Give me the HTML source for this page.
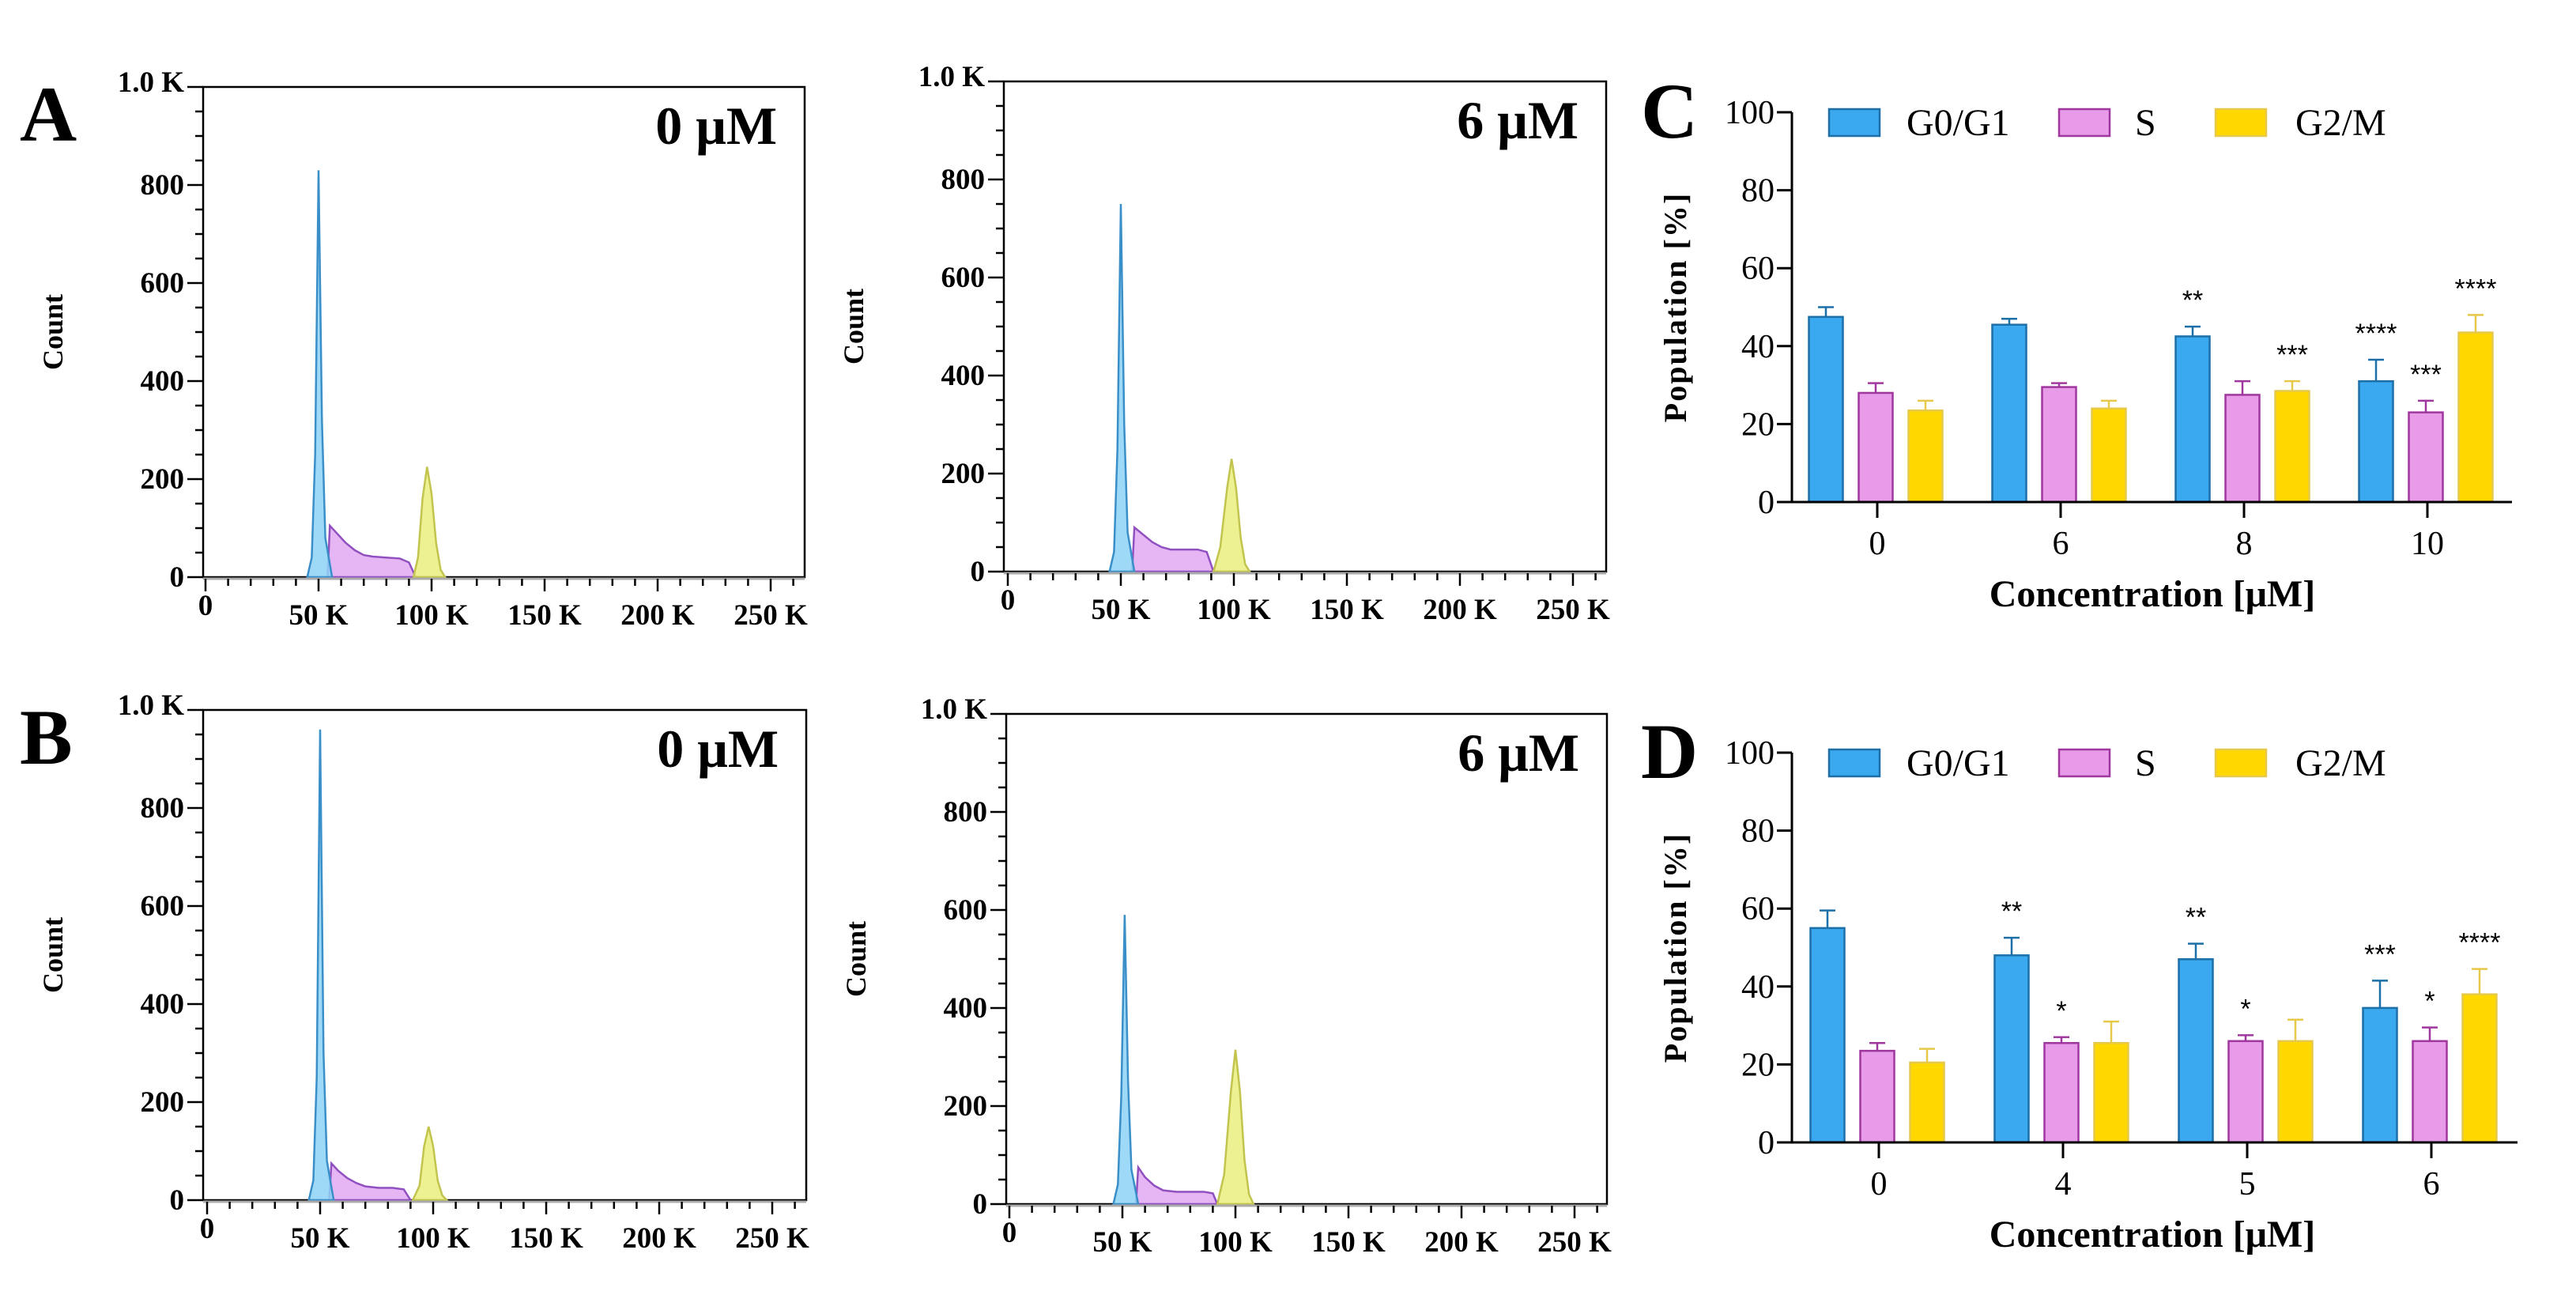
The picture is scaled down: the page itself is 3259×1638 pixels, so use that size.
<!DOCTYPE html>
<html><head><meta charset="utf-8"><style>
html,body{margin:0;padding:0;background:#fff;}
svg{display:block;font-family:"Liberation Serif",serif;}
</style></head><body>
<svg id="fig" width="3259" height="1638" viewBox="0 0 3259 1638" xmlns="http://www.w3.org/2000/svg"></svg>
<script>
// ---------- Histogram data (x in K, count) ----------
const histTitles = ["0 μM","6 μM","0 μM","6 μM"];
const histXTicks = [0,50,100,150,200,250];
const histYTicks = [0,200,400,600,800,1000];
const histYLabels = ["0","200","400","600","800","1.0 K"];
const g1A  = [[45,0],[47,40],[48.5,250],[50,830],[51.5,320],[53,80],[56,0]];
const sA   = [[54,0],[55,105],[58,90],[62,70],[66,55],[70,45],[74,42],[80,40],[86,38],[90,30],[93,0]];
const g2A  = [[92,0],[94,40],[96,160],[98,225],[100,170],[102,70],[104,15],[106,0]];
const g1A6 = [[45,0],[47,40],[48.5,250],[50,750],[51.5,300],[53,80],[56,0]];
const sA6  = [[55,0],[56,90],[60,75],[64,60],[68,50],[72,45],[78,45],[84,45],[88,40],[91,0]];
const g2A6 = [[91,0],[94,50],[97,170],[99,230],[101,170],[103,70],[105,15],[107,0]];
const g1B  = [[45,0],[47,40],[48.5,250],[50,960],[51.5,300],[53,80],[56,0]];
const sB   = [[54,0],[55,75],[58,60],[62,45],[66,35],[70,28],[76,25],[82,25],[87,22],[90,0]];
const g2B  = [[91,0],[94,30],[96,110],[98,150],[100,110],[102,40],[104,10],[106,0]];
const g1B6 = [[46,0],[48,40],[49.5,220],[51,590],[52.5,250],[54,70],[57,0]];
const sB6  = [[56,0],[57,75],[60,55],[64,38],[68,28],[74,25],[80,25],[86,25],[90,22],[92,0]];
const g2B6 = [[92,0],[95,60],[98,230],[100,315],[102,230],[104,90],[106,20],[108,0]];

// ---------- Bar chart data ----------
const phases = ["G0/G1","S","G2/M"];
const catsC = ["0","6","8","10"];
const g1C = [47.5,45.5,42.5,31];
const g1CErr = [2.5,1.5,2.5,5.5];
const sC = [28,29.5,27.5,23];
const sCErr = [2.5,1,3.5,3];
const g2C = [23.5,24,28.5,43.5];
const g2CErr = [2.5,2,2.5,4.5];
const starsC = [["","",""],["","",""],["**","","***"],["****","***","****"]];
const catsD = ["0","4","5","6"];
const g1D = [55,48,47,34.5];
const g1DErr = [4.5,4.5,4,7];
const sD = [23.5,25.5,26,26];
const sDErr = [2,1.5,1.5,3.5];
const g2D = [20.5,25.5,26,38];
const g2DErr = [3.5,5.5,5.5,6.5];
const starsD = [["","",""],["**","*",""],["**","*",""],["***","*","****"]];
const barYTicks = [0,20,40,60,80,100];

const NS="http://www.w3.org/2000/svg";
const svg=document.getElementById('fig');
function el(tag,attrs,parent,text){const e=document.createElementNS(NS,tag);for(const k in attrs)e.setAttribute(k,attrs[k]);if(text!==undefined)e.textContent=text;(parent||svg).appendChild(e);return e;}

// ---------- Histogram panels ----------
const histPanels=[
 {left:257,right:1018,zero:730,x0:260,title:histTitles[0],g1:g1A,s:sA,g2:g2A,name:"histogram-a-0uM"},
 {left:1270,right:2032,zero:723,x0:1275,title:histTitles[1],g1:g1A6,s:sA6,g2:g2A6,name:"histogram-a-6uM"},
 {left:257,right:1020,zero:1518,x0:262,title:histTitles[2],g1:g1B,s:sB,g2:g2B,name:"histogram-b-0uM"},
 {left:1273,right:2033,zero:1523,x0:1277,title:histTitles[3],g1:g1B6,s:sB6,g2:g2B6,name:"histogram-b-6uM"}
];
histPanels.forEach(p=>{
  const g=el('g',{},svg);
  
  
  const xs=v=>p.x0+v*2.86;
  const ys=c=>p.zero-c*0.62;
  const top=ys(1000);
  const box=el('rect',{x:p.left,y:top,width:p.right-p.left,height:p.zero-top,fill:'none',stroke:'#000','stroke-width':2.5},g);
  
  
  function area(pts,fill,stroke,nm){
    let d='M'+xs(pts[0][0])+','+ys(pts[0][1]);
    pts.slice(1).forEach(q=>{d+=' L'+xs(q[0])+','+ys(q[1]);});
    d+=' Z';
    const a=el('path',{d:d,fill:fill,stroke:stroke,'stroke-width':2.5,'fill-opacity':0.85},g);
    
    
  }
  area(p.s,'#e0a8f2','#9150c0','s-phase-area');
  area(p.g1,'#8dd3f7','#3b8fc8','g0g1-peak');
  area(p.g2,'#eaee7e','#c2c44e','g2m-peak');
  el('line',{x1:p.left,y1:p.zero+2,x2:p.right,y2:p.zero+2,stroke:'#aaa','stroke-width':3},g);
  for(let c=0;c<=1000;c+=50){
    const major=c%200===0;
    el('line',{x1:p.left-(major?20:10),y1:ys(c),x2:p.left,y2:ys(c),stroke:'#000','stroke-width':2.5},g);
  }
  histYTicks.forEach((c,i)=>{
    const t=el('text',{x:p.left-24,y:ys(c)+(i===5?6:12),'text-anchor':'end','font-size':37,'font-weight':'bold'},g,histYLabels[i]);
    
    
  });
  for(let v=0;v<=260;v+=10){
    const major=v%50===0;
    el('line',{x1:xs(v),y1:p.zero+2,x2:xs(v),y2:p.zero+(major?18:11),stroke:'#000','stroke-width':2.5},g);
  }
  histXTicks.forEach(v=>{
    const t=el('text',{x:xs(v),y:v===0?p.zero+48:p.zero+60,'text-anchor':'middle','font-size':37,'font-weight':'bold'},g,v===0?'0':v+' K');
    
    
  });
  const cy=(top+p.zero)/2;
  const yl=el('text',{x:p.left-190,y:cy,'text-anchor':'middle','font-size':36,'font-weight':'bold',transform:'rotate(-90 '+(p.left-190)+' '+cy+')',dy:12},g,'Count');
  
  
  const tt=el('text',{x:p.right-35,y:top+72,'text-anchor':'end','font-size':68,'font-weight':'bold'},g,p.title);
  
  
});
[["A",178],["B",966]].forEach(([L,y])=>{
  const t=el('text',{x:25,y:y,'font-size':100,'font-weight':'bold'},svg,L);
  
  
});

// ---------- Bar charts ----------
const fills=['#3aa9ef','#e79be8','#ffd800'];
const strokes=['#1d6fa8','#a0379f','#e6c84a'];
const barPanels=[
 {axisX:2267,zero:635,xEnd:3178,c0:2373,step:232,cats:catsC,vals:[g1C,sC,g2C],errs:[g1CErr,sCErr,g2CErr],stars:starsC,letter:'C',name:'bar-chart-c'},
 {axisX:2267,zero:1445,xEnd:3185,c0:2375,step:233,cats:catsD,vals:[g1D,sD,g2D],errs:[g1DErr,sDErr,g2DErr],stars:starsD,letter:'D',name:'bar-chart-d'}
];
barPanels.forEach(p=>{
  const g=el('g',{},svg);
  
  
  const ys=v=>p.zero-v*4.93;
  const xc=i=>p.c0+i*p.step;
  p.vals.forEach((arr,s)=>{
    arr.forEach((v,i)=>{
      const cx=xc(i)+(s-1)*63;
      const b=el('rect',{x:cx-21.5,y:ys(v),width:43,height:p.zero-ys(v),fill:fills[s],stroke:strokes[s],'stroke-width':2.5},g);
      
      
      const et=ys(v+p.errs[s][i]);
      el('line',{x1:cx,y1:ys(v),x2:cx,y2:et,stroke:strokes[s],'stroke-width':2.5},g);
      el('line',{x1:cx-10,y1:et,x2:cx+10,y2:et,stroke:strokes[s],'stroke-width':2.5},g);
      const st=p.stars[i][s];
      if(st){
        const t=el('text',{x:cx,y:et-22,'text-anchor':'middle','font-size':34,'font-family':'"Liberation Sans",sans-serif'},g,st);
        
        
      }
    });
  });
  el('line',{x1:p.axisX,y1:ys(100),x2:p.axisX,y2:p.zero,stroke:'#000','stroke-width':3},g);
  el('line',{x1:p.axisX-19,y1:p.zero,x2:p.xEnd,y2:p.zero,stroke:'#000','stroke-width':3},g);
  barYTicks.forEach(v=>{
    el('line',{x1:p.axisX-19,y1:ys(v),x2:p.axisX,y2:ys(v),stroke:'#000','stroke-width':3},g);
    const t=el('text',{x:p.axisX-22,y:ys(v)+14,'text-anchor':'end','font-size':42},g,String(v));
    
    
  });
  p.cats.forEach((c,i)=>{
    el('line',{x1:xc(i)+2,y1:p.zero,x2:xc(i)+2,y2:p.zero+20,stroke:'#000','stroke-width':3},g);
    const t=el('text',{x:xc(i)+2,y:p.zero+66,'text-anchor':'middle','font-size':42},g,c);
    
    
  });
  const xt=el('text',{x:2723,y:p.zero+132,'text-anchor':'middle','font-size':48,'font-weight':'bold'},g,'Concentration [μM]');
  
  
  const cy=(ys(100)+p.zero)/2;
  const yt=el('text',{x:2133,y:cy,'text-anchor':'middle','font-size':40,'font-weight':'bold','letter-spacing':2,transform:'rotate(-90 2133 '+cy+')'},g,'Population [%]');
  
  
  const ly=p.zero-480;
  const lx=[[2314,2412],[2605,2701],[2803,2904]];
  phases.forEach((ph,s)=>{
    const sw=el('rect',{x:lx[s][0],y:ly-17,width:64,height:34,fill:fills[s],stroke:strokes[s],'stroke-width':2.5},g);
    
    
    const t=el('text',{x:lx[s][1],y:ly+16,'font-size':48},g,ph);
    
    
  });
  const L=el('text',{x:2076,y:ys(100)+32,'font-size':100,'font-weight':'bold'},g,p.letter);
  
  
});
</script>
</body></html>
